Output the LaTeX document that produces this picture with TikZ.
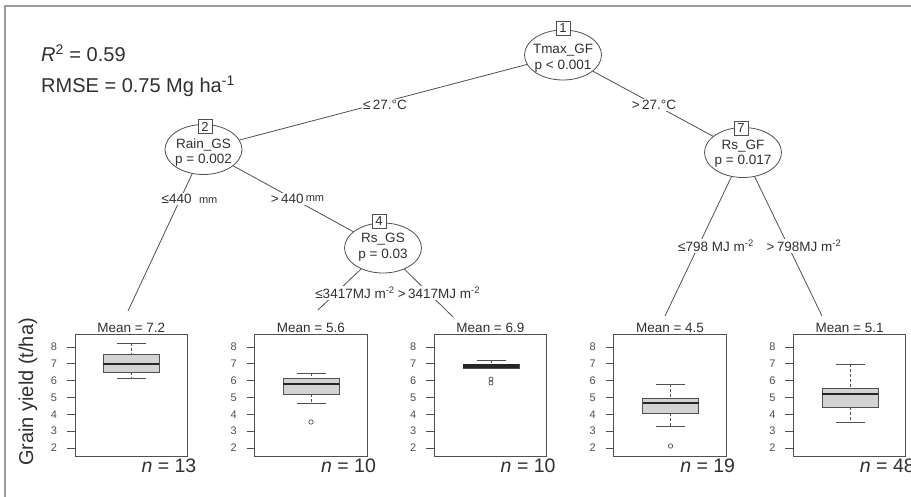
\documentclass[tikz,border=0pt]{standalone}
\usepackage{fontspec}
\setmainfont{Liberation Sans}
\usetikzlibrary{shapes.geometric}
\definecolor{ink}{HTML}{303030}
\definecolor{edgec}{HTML}{505050}
\definecolor{boxfill}{HTML}{D3D3D3}
\definecolor{framec}{HTML}{9A9A9A}
\definecolor{tickc}{HTML}{505050}
\newcommand{\fs}[1]{\fontsize{#1}{#1}\selectfont}
\newcommand{\bxp}[6]{%
  \draw[whisk] (#1,#2) -- (#1,#3);
  \draw[whisk] (#1,#5) -- (#1,#6);
  \draw[capst] ({#1-14.5},#2) -- ({#1+14.5},#2);
  \draw[capst] ({#1-14.5},#6) -- ({#1+14.5},#6);
  \draw[boxst] ({#1-28},#3) rectangle ({#1+28},#5);
  \draw[medst] ({#1-28},#4) -- ({#1+28},#4);
}
\begin{document}
\begin{tikzpicture}[x=1pt,y=-1pt,
  inner/.style={draw=edgec, line width=0.8pt, fill=white, ellipse, minimum width=77pt, minimum height=50pt, inner sep=0pt},
  ntext/.style={font=\fs{13.5}, align=center, inner sep=0pt, text=ink},
  numbox/.style={draw=edgec, line width=0.8pt, fill=white, minimum size=14pt, inner sep=0pt, font=\fs{13}, text=ink},
  edge/.style={draw=edgec, line width=0.8pt},
  elabel/.style={fill=white, inner sep=1pt, font=\fs{13.5}, text=ink},
  meanlab/.style={font=\fs{13.5}, anchor=base, inner sep=0pt, text=ink},
  nlab/.style={font=\fs{19.5}, anchor=base east, inner sep=0pt, text=ink},
  panel/.style={draw=edgec, line width=0.9pt},
  tick/.style={draw=tickc, line width=0.8pt},
  ticklab/.style={font=\fs{11}, inner sep=0pt, text=tickc},
  whisk/.style={draw=edgec, line width=0.8pt, dash pattern=on 3pt off 2pt},
  capst/.style={draw=edgec, line width=0.8pt},
  boxst/.style={draw=edgec, line width=0.8pt, fill=boxfill},
  medst/.style={draw=black!85, line width=2.2pt},
  outl/.style={draw=tickc, line width=0.7pt}
]
\useasboundingbox (0,0) rectangle (911,497);
\fill[white] (0,0) rectangle (911,497);
\draw[framec, line width=1.5pt] (5,497) -- (5,6) -- (911,6);

% fit statistics
\node[anchor=base west, inner sep=0pt, font=\fs{20}, text=ink] (r2) at (41,62) {\textit{R}\textsuperscript{2} = 0.59};
\node[anchor=base west, inner sep=0pt, font=\fs{20}, text=ink] (rmse) at (41,93) {RMSE = 0.75 Mg ha\textsuperscript{-1}};

% y axis label
\node[rotate=90, font=\fs{20}, inner sep=0pt, text=ink] (ylab) at (28,392) {Grain yield (t/ha)};

% inner nodes
\node[inner] (n1) at (563,55) {};
\node[inner] (n2) at (203.5,149.5) {};
\node[inner] (n4) at (383,248) {};
\node[inner] (n7) at (743,152.5) {};

% terminal attachment points
\coordinate (t1) at (128,311);
\coordinate (t2) at (318,310);
\coordinate (t3) at (453,317);
\coordinate (t4) at (665,316);
\coordinate (t5) at (822,316);

% edges
\draw[edge] (n1) -- (n2);
\draw[edge] (n1) -- (n7);
\draw[edge] (n2) -- (t1);
\draw[edge] (n2) -- (n4);
\draw[edge] (n4) -- (t2);
\draw[edge] (n4) -- (t3);
\draw[edge] (n7) -- (t4);
\draw[edge] (n7) -- (t5);

% edge labels
\node[elabel] (e12) at (385,105) {≤\,27.°C};
\node[elabel] (e17) at (654,105) {>\,27.°C};
\node[elabel] (e23) at (189.5,199) {≤440\ \ {\fs{11}mm}};
\node[elabel] (e24) at (297.5,199) {>\,440\,\raisebox{2pt}{\fs{11}mm}};
\node[elabel] (e45) at (355,293) {≤3417MJ m\textsuperscript{-2}};
\node[elabel] (e46) at (439,293) {>\,3417MJ m\textsuperscript{-2}};
\node[elabel] (e78) at (716,246) {≤798\ MJ m\textsuperscript{-2}};
\node[elabel] (e79) at (804,246) {>\,798MJ m\textsuperscript{-2}};

% node texts
\node[ntext] (n1t) at (563,58) {Tmax\_GF\\[2pt]p < 0.001};
\node[ntext] (n2t) at (203.5,152.5) {Rain\_GS\\[2pt]p = 0.002};
\node[ntext] (n4t) at (383,247) {Rs\_GS\\[2pt]p = 0.03};
\node[ntext] (n7t) at (743,153.5) {Rs\_GF\\[2pt]p = 0.017};

% number boxes
\node[numbox] (b1) at (563,28) {1};
\node[numbox] (b2) at (205,126.5) {2};
\node[numbox] (b4) at (379,221.5) {4};
\node[numbox] (b7) at (741,128.5) {7};

% terminal panels
\foreach \L/\m/\n [count=\i] in {75/7.2/13, 254.6/5.6/10, 434.2/6.9/10, 613.8/4.5/19, 793.4/5.1/48} {
  \draw[panel] (\L,334) rectangle ({\L+112.5},456);
  \foreach \k in {0,...,6} {
    \pgfmathsetmacro{\yy}{347+16.83*\k}
    \pgfmathtruncatemacro{\vv}{8-\k}
    \draw[tick] ({\L-8},\yy) -- (\L,\yy);
    \node[ticklab] (tl\i\k) at ({\L-21},\yy) {\vv};
  }
  \node[meanlab] (m\i) at ({\L+56.25},333) {Mean = \m};
  \node[nlab] (nn\i) at ({\L+121.5},472) {\textit{n} = \n};
}

% box plots
\bxp{131}{343}{354}{364}{372}{378}
\bxp{311}{373}{378}{384}{394}{403}
\draw[outl] (311,422) circle (2.2pt);
\draw[whisk] (491,360) -- (491,364);
\draw[capst] (476.5,360) -- (505.5,360);
\draw[boxst] (463,364) rectangle (519,368);
\draw[draw=black!85, line width=3.2pt] (463,366) -- (519,366);
\draw[outl] (491,379) circle (2pt);
\draw[outl] (491,383) circle (2pt);
\bxp{670.5}{384}{398}{403}{413}{426}
\draw[outl] (670.5,446) circle (2.2pt);
\bxp{850}{364}{388}{394}{407}{422}
\end{tikzpicture}
\end{document}
